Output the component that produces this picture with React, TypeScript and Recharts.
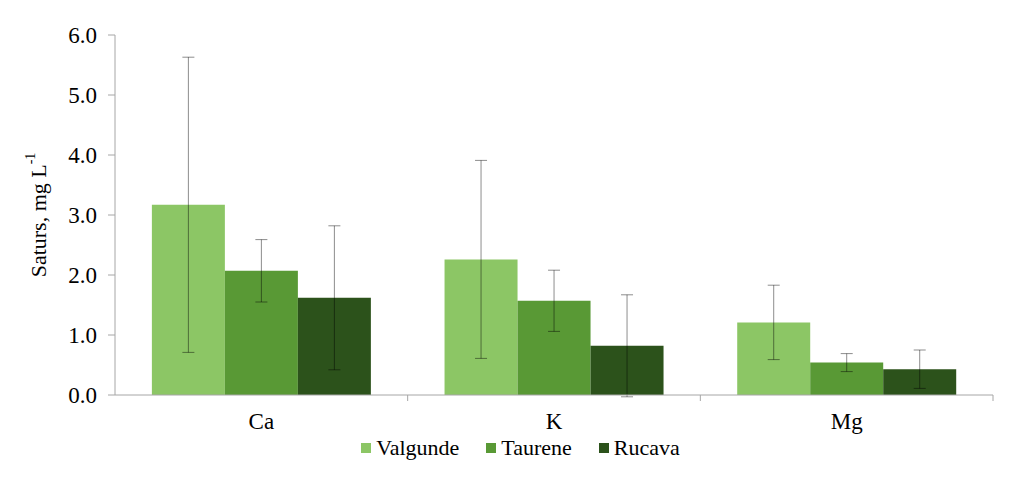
import { BarChart, Bar, XAxis, YAxis, ErrorBar, Legend } from 'recharts'

const elements = ['Ca', 'K', 'Mg']
const valgunde = [3.17, 2.26, 1.21]
const valgundeSd = [2.46, 1.65, 0.62]
const taurene = [2.07, 1.57, 0.54]
const taureneSd = [0.52, 0.51, 0.15]
const rucava = [1.62, 0.82, 0.43]
const rucavaSd = [1.2, 0.85, 0.32]
const yTicks = [0, 1, 2, 3, 4, 5, 6]
const seriesNames = ['Valgunde', 'Taurene', 'Rucava']

const data = elements.map((name, i) => ({
  name,
  valgunde: valgunde[i],
  valgundeSd: valgundeSd[i],
  taurene: taurene[i],
  taureneSd: taureneSd[i],
  rucava: rucava[i],
  rucavaSd: rucavaSd[i],
}))

const font = 'Times New Roman, Liberation Serif, DejaVu Serif, serif'
const axisColor = '#a6a6a6'
const errColor = 'rgba(0,0,0,0.45)'

const CategoryTick = (props: any) => {
  const { x, y, payload } = props
  const half = payload?.offset ?? 0
  return (
    <g>
      <text x={x} y={y + 34} textAnchor="middle" style={{ fontFamily: font }} fontSize={23} fill="#000">
        {payload.value}
      </text>
      {half > 0 && <line x1={x + half} y1={y} x2={x + half} y2={y + 6} stroke={axisColor} />}
    </g>
  )
}

const YLabel = (props: any) => {
  const { viewBox } = props
  const cx = viewBox.x + 30
  const cy = viewBox.y + viewBox.height / 2
  return (
    <text
      x={cx}
      y={cy}
      transform={`rotate(-90, ${cx}, ${cy})`}
      textAnchor="middle"
      dominantBaseline="central"
      style={{ fontFamily: font }}
      fontSize={22}
      fill="#000"
    >
      Saturs, mg L<tspan baselineShift="super" fontSize={14}>-1</tspan>
    </text>
  )
}

const LegendContent = (props: any) => {
  const items = [...(props.payload || [])].sort(
    (a: any, b: any) => seriesNames.indexOf(a.value) - seriesNames.indexOf(b.value)
  )
  return (
    <div style={{ display: 'flex', justifyContent: 'center', gap: 27, fontFamily: font, fontSize: 22 }}>
      {items.map((p: any) => (
        <div key={p.value} style={{ display: 'flex', alignItems: 'center' }}>
          <span style={{ width: 10, height: 10, background: p.color, marginRight: 5, display: 'inline-block' }} />
          <span>{p.value}</span>
        </div>
      ))}
    </div>
  )
}

export default function App() {
  return (
    <div
      style={{
        position: 'relative',
        marginLeft: -1,
        marginTop: -2,
        width: 1008,
        height: 475,
        borderTop: '1px solid #e8e8e8',
        borderLeft: '1px solid #e8e8e8',
        background: '#fff',
        fontFamily: font,
      }}
    >
      <BarChart
        width={1007}
        height={474}
        data={data}
        margin={{ top: 28, right: 22, left: 0, bottom: 16 }}
        barCategoryGap="12.6%"
        barGap={0}
        style={{ fontFamily: font }}
      >
        <XAxis
          dataKey="name"
          axisLine={{ stroke: axisColor }}
          tickLine={false}
          tickSize={0}
          tickMargin={0}
          height={40}
          tick={<CategoryTick />}
        />
        <YAxis
          width={107}
          domain={[0, 6]}
          ticks={yTicks}
          allowDataOverflow
          tickFormatter={(v: number) => v.toFixed(1)}
          tick={{ fontSize: 23, fill: '#000', style: { fontFamily: font } }}
          axisLine={{ stroke: axisColor }}
          tickLine={{ stroke: axisColor }}
          tickSize={7}
          tickMargin={11}
          label={<YLabel />}
        />
        <Legend
          verticalAlign="bottom"
          height={30}
          content={<LegendContent />}
          wrapperStyle={{ left: 20, width: 985 }}
        />
        <Bar dataKey="valgunde" name={seriesNames[0]} fill="#8cc665" isAnimationActive={false}>
          <ErrorBar dataKey="valgundeSd" width={6} stroke={errColor} strokeWidth={1} direction="y" />
        </Bar>
        <Bar dataKey="taurene" name={seriesNames[1]} fill="#599935" isAnimationActive={false}>
          <ErrorBar dataKey="taureneSd" width={6} stroke={errColor} strokeWidth={1} direction="y" />
        </Bar>
        <Bar dataKey="rucava" name={seriesNames[2]} fill="#2c521b" isAnimationActive={false}>
          <ErrorBar dataKey="rucavaSd" width={6} stroke={errColor} strokeWidth={1} direction="y" />
        </Bar>
      </BarChart>
    </div>
  )
}
